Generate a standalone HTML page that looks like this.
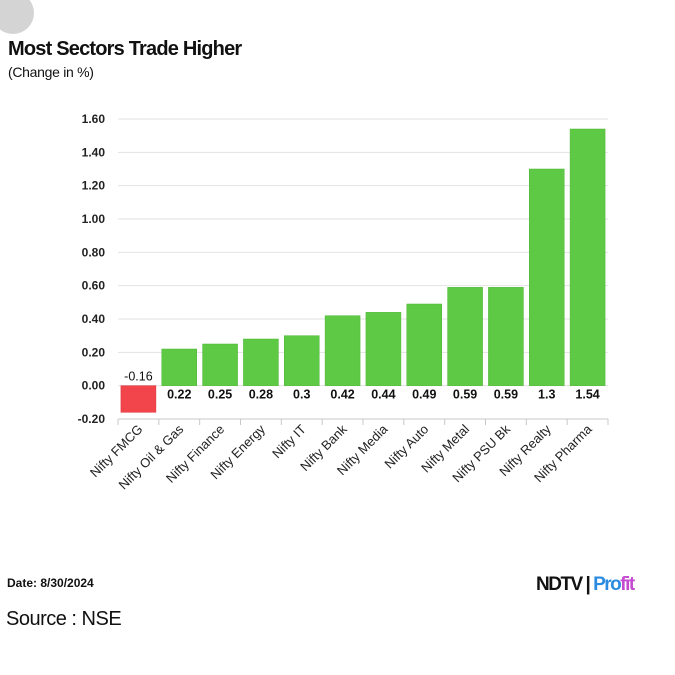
<!DOCTYPE html>
<html><head><meta charset="utf-8"><style>
body{margin:0;background:#fff;width:675px;height:675px;overflow:hidden;position:relative;font-family:"Liberation Sans",sans-serif}
.t{position:absolute;white-space:nowrap}
</style></head><body>
<div class="t" style="left:-8px;top:-8px;width:42px;height:42px;border-radius:50%;background:#d4d4d4"></div>
<div class="t" style="left:8px;top:38px;font-size:20px;font-weight:bold;letter-spacing:-0.8px;color:#111">Most Sectors Trade Higher</div>
<div class="t" style="left:8px;top:64px;font-size:14px;letter-spacing:-0.3px;color:#111">(Change in %)</div>
<svg width="675" height="675" style="position:absolute;left:0;top:0" id="c"></svg>
<div class="t" style="left:7px;top:576px;font-size:12px;font-weight:bold;color:#111">Date: 8/30/2024</div>
<div class="t" style="left:6px;top:608px;font-size:20px;letter-spacing:-0.5px;color:#111">Source : NSE</div>
<div class="t" style="left:536px;top:574px;font-size:19px;font-weight:bold;letter-spacing:-1.5px"><span style="color:#111">NDTV</span><span style="color:#111"> | </span><span style="color:#2a8be0">Pro</span><span style="color:#c44ad0">fit</span></div>
<script>
const categories=["Nifty FMCG","Nifty Oil & Gas","Nifty Finance","Nifty Energy","Nifty IT","Nifty Bank","Nifty Media","Nifty Auto","Nifty Metal","Nifty PSU Bk","Nifty Realty","Nifty Pharma"];
const values=[-0.16,0.22,0.25,0.28,0.3,0.42,0.44,0.49,0.59,0.59,1.3,1.54];
const valueLabels=["-0.16","0.22","0.25","0.28","0.3","0.42","0.44","0.49","0.59","0.59","1.3","1.54"];
const yTicks=[-0.2,0,0.2,0.4,0.6,0.8,1.0,1.2,1.4,1.6];
const svg=document.getElementById('c');const NS="http://www.w3.org/2000/svg";
const x0=118,x1=608,yTop=119,yBot=419,yMin=-0.2,yMax=1.6;
const y=v=>yBot-(v-yMin)/(yMax-yMin)*(yBot-yTop);
const bw=(x1-x0)/categories.length;
function mk(tag,a,txt){const e=document.createElementNS(NS,tag);for(const k in a)e.setAttribute(k,a[k]);if(txt!=null)e.textContent=txt;svg.appendChild(e);return e;}
yTicks.forEach(t=>{
 const g=mk('line',{x1:x0,x2:x1,y1:y(t),y2:y(t),stroke:t===yMin?'#c8c8c8':'#e2e2e2','stroke-width':1});
 
 const l=mk('text',{x:105,y:y(t)+4,'text-anchor':'end','font-size':12,'font-weight':'bold',fill:'#222'},t.toFixed(2));
 
});
for(let i=0;i<=categories.length;i++){const tk=mk('line',{x1:x0+i*bw,x2:x0+i*bw,y1:yBot,y2:yBot+6,stroke:'#c8c8c8'});}
values.forEach((v,i)=>{
 const cx=x0+i*bw+bw/2, w=35;
 const top=Math.min(y(v),y(0)),h=Math.abs(y(v)-y(0));
 const r=mk('rect',{x:cx-w/2,y:top,width:w,height:h,fill:v<0?'#f2444b':'#5ec944',stroke:v<0?'#d83038':'#4fb437','stroke-width':0.5});
 
 
 const ly=v<0?y(0)-5:y(0)+13;
 const t=mk('text',{x:cx,y:ly,'text-anchor':'middle','font-size':12.5,'font-weight':v<0?'normal':'bold',fill:'#111'},valueLabels[i]);
 
 const c=mk('text',{x:cx+5,y:yBot+11,'text-anchor':'end','font-size':13,fill:'#222',transform:`rotate(-45 ${cx+5} ${yBot+11})`},categories[i]);
 
});
</script>
</body></html>
